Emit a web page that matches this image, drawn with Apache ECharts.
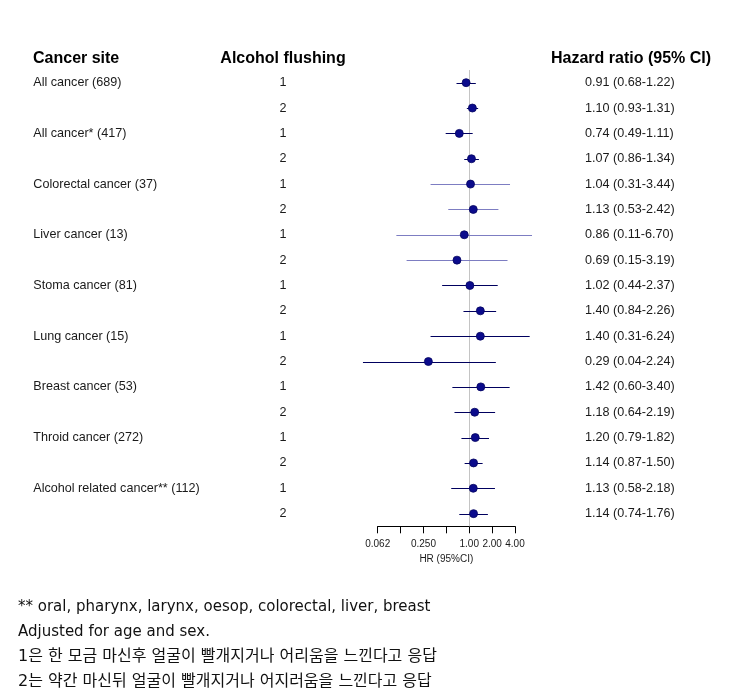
<!DOCTYPE html>
<html>
<head>
<meta charset="utf-8">
<script src="https://cdn.jsdelivr.net/npm/echarts@6/dist/echarts.min.js"></script>
<style>
html,body{margin:0;padding:0;background:#fff;}
#chart{width:742px;height:695px;}
</style>
</head>
<body>
<div id="chart"></div>
<script>
// ---- data ----
const sites = ['All cancer (689)', 'All cancer* (417)', 'Colorectal cancer (37)', 'Liver cancer (13)',
  'Stoma cancer (81)', 'Lung cancer (15)', 'Breast cancer (53)', 'Throid cancer (272)',
  'Alcohol related cancer** (112)'];
const flushing = ['1', '2'];
const hr    = [0.91, 1.10, 0.74, 1.07, 1.04, 1.13, 0.86, 0.69, 1.02, 1.40, 1.40, 0.29, 1.42, 1.18, 1.20, 1.14, 1.13, 1.14];
const lower = [0.68, 0.93, 0.49, 0.86, 0.31, 0.53, 0.11, 0.15, 0.44, 0.84, 0.31, 0.04, 0.60, 0.64, 0.79, 0.87, 0.58, 0.74];
const upper = [1.22, 1.31, 1.11, 1.34, 3.44, 2.42, 6.70, 3.19, 2.37, 2.26, 6.24, 2.24, 3.40, 2.19, 1.82, 1.50, 2.18, 1.76];
const tickValues = [0.0625, 0.125, 0.25, 0.5, 1, 2, 4];
const tickLabels = ['0.062', '', '0.250', '', '1.00', '2.00', '4.00'];
const footnotes = [
  '** oral, pharynx, larynx, oesop, colorectal, liver, breast',
  'Adjusted for age and sex.',
  '1은 한 모금 마신후 얼굴이 빨개지거나 어리움을 느낀다고 응답',
  '2는 약간 마신뒤 얼굴이 빨개지거나 어지러움을 느낀다고 응답'
];
// style: rows drawn with a lighter CI line
const lightRows = [4, 5, 6, 7];
const footnoteSizes = [15, 15, 16, 16];

// ---- derived ----
const rowIdx = [];
const siteLabels = [];
const flushLabels = [];
const hrLabels = [];
sites.forEach((s, i) => {
  flushing.forEach((f, j) => {
    const k = i * flushing.length + j;
    rowIdx.push(String(k));
    siteLabels.push(j === 0 ? s : '');
    flushLabels.push(f);
    hrLabels.push(hr[k].toFixed(2) + ' (' + lower[k].toFixed(2) + '-' + upper[k].toFixed(2) + ')');
  });
});

const FONT = '"Liberation Sans", Arial, sans-serif';
const gridLeft = 377.7, gridRightEdge = 515;

const chart = echarts.init(document.getElementById('chart'), null, {renderer: 'canvas'});

function yAx(labels, pos, offset, align) {
  return {
    type: 'category', inverse: true, position: pos, offset: offset,
    data: labels,
    axisLine: {show: false}, axisTick: {show: false}, splitLine: {show: false},
    axisLabel: {show: true, interval: 0, margin: 0, align: align, color: '#1a1a1a',
      fontFamily: FONT, fontSize: 12.6}
  };
}

const option = {
  animation: false,
  backgroundColor: '#fff',
  grid: {left: gridLeft, right: 742 - gridRightEdge, top: 70, bottom: 695 - 526.3, containLabel: false},
  xAxis: {
    type: 'log', logBase: 2, min: 0.0625, max: 4, splitNumber: 6,
    name: 'HR (95%CI)', nameLocation: 'middle', nameGap: 18,
    nameTextStyle: {fontFamily: FONT, fontSize: 10, color: '#1a1a1a'},
    axisLine: {show: true, lineStyle: {color: '#000', width: 1}},
    axisTick: {show: true, length: 7, lineStyle: {color: '#000'}},
    splitLine: {show: false},
    axisLabel: {
      margin: 13, fontFamily: FONT, fontSize: 10, color: '#1a1a1a',
      formatter: function (v) {
        for (let i = 0; i < tickValues.length; i++) {
          if (Math.abs(v - tickValues[i]) < 1e-6) return tickLabels[i];
        }
        return '';
      }
    }
  },
  yAxis: [
    yAx(siteLabels, 'left', gridLeft - 33.3, 'left'),
    yAx(flushLabels, 'left', gridLeft - 283, 'center'),
    yAx(hrLabels, 'right', 585 - gridRightEdge, 'left')
  ],
  series: [
    {
      type: 'scatter', data: [], z: 1, silent: true,
      markLine: {
        silent: true, symbol: 'none', animation: false, z: 1,
        label: {show: false},
        lineStyle: {color: '#c4c4c4', type: 'solid', width: 1},
        data: [{xAxis: 1}]
      }
    },
    {
      type: 'custom', z: 6, clip: false, silent: true,
      data: rowIdx.map((r, k) => [lower[k], upper[k], k]),
      encode: {x: [0, 1], y: 2},
      renderItem: function (params, api) {
        const k = api.value(2);
        const p1 = api.coord([api.value(0), k]);
        const p2 = api.coord([api.value(1), k]);
        const y = Math.round(p1[1]) + 0.5;
        return {
          type: 'line',
          shape: {x1: p1[0], y1: y, x2: p2[0], y2: y},
          style: {stroke: lightRows.indexOf(k) >= 0 ? '#7d7dc2' : '#00005e', lineWidth: 1}
        };
      }
    },
    {
      type: 'scatter', z: 7, clip: false, silent: true,
      symbol: 'circle', symbolSize: 8,
      itemStyle: {color: '#0b0b8c', borderColor: '#050560', borderWidth: 0.8, opacity: 1},
      data: rowIdx.map((r, k) => [hr[k], k])
    }
  ],
  graphic: [
    {type: 'text', x: 33, y: 59, style: {text: 'Cancer site', font: 'bold 16px ' + FONT, fill: '#000', align: 'left', verticalAlign: 'middle'}},
    {type: 'text', x: 283, y: 59, style: {text: 'Alcohol flushing', font: 'bold 16px ' + FONT, fill: '#000', align: 'center', verticalAlign: 'middle'}},
    {type: 'text', x: 551, y: 59, style: {text: 'Hazard ratio (95% CI)', font: 'bold 16px ' + FONT, fill: '#000', align: 'left', verticalAlign: 'middle'}}
  ].concat(footnotes.map((t, i) => ({
    type: 'text', x: 18, y: 607 + i * 25,
    style: {text: t, font: footnoteSizes[i] + 'px "DejaVu Sans", "Noto Sans CJK KR", sans-serif', fill: '#111', align: 'left', verticalAlign: 'middle'}
  })))
};
chart.setOption(option);
</script>
</body>
</html>
